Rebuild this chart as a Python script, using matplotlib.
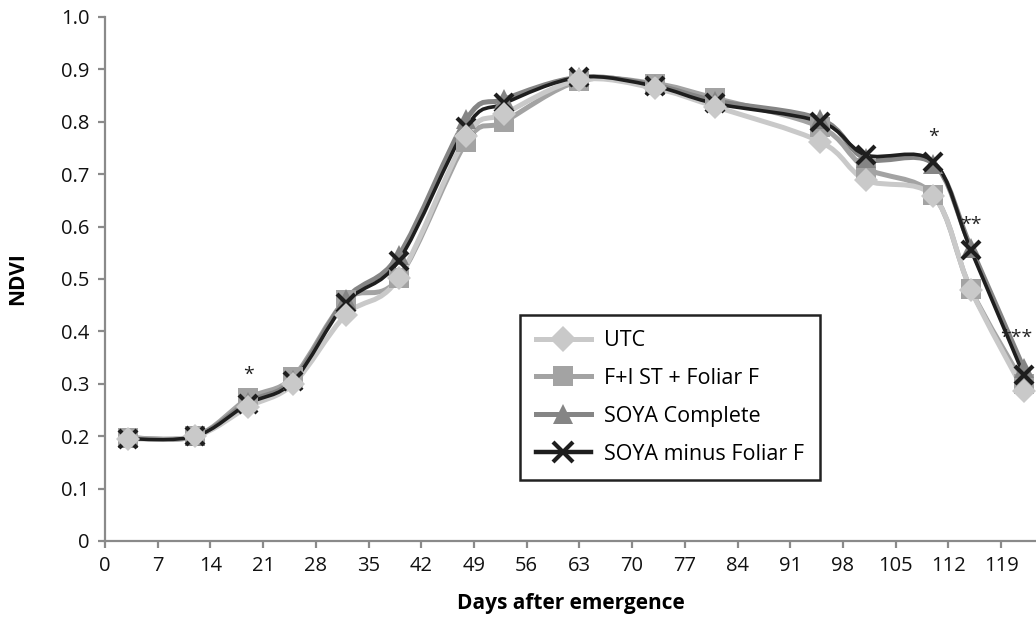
import numpy as np
import matplotlib
matplotlib.use("Agg")
import matplotlib.pyplot as plt
from matplotlib.path import Path
from matplotlib.patches import PathPatch
from matplotlib.lines import Line2D

plt.rcParams['font.family'] = ['Open Sans', 'DejaVu Sans']

# Days after emergence at each sampling date
days = [3, 12, 19, 25, 32, 39, 48, 53, 63, 73, 81, 95, 101, 110, 115, 122]

# NDVI per treatment
utc = [0.195, 0.200, 0.256, 0.300, 0.432, 0.502, 0.772, 0.815, 0.880, 0.864, 0.829, 0.762, 0.689, 0.658, 0.479, 0.287]
fi_st_foliar = [0.197, 0.200, 0.272, 0.313, 0.460, 0.502, 0.762, 0.800, 0.878, 0.873, 0.845, 0.790, 0.712, 0.660, 0.480, 0.300]
soya_complete = [0.197, 0.200, 0.265, 0.308, 0.462, 0.545, 0.805, 0.843, 0.885, 0.870, 0.840, 0.805, 0.730, 0.720, 0.560, 0.330]
soya_minus_foliar = [0.195, 0.200, 0.262, 0.305, 0.455, 0.535, 0.790, 0.835, 0.885, 0.868, 0.835, 0.800, 0.737, 0.724, 0.555, 0.317]

series_names = ["UTC", "F+I ST + Foliar F", "SOYA Complete", "SOYA minus Foliar F"]

# Significance markers: (day, NDVI position, text)
sig_days = [19, 110, 115, 121.0]
sig_pos = [0.318, 0.772, 0.604, 0.388]
sig_text = ["*", "*", "**", "***"]

x_ticks = list(range(0, 120, 7))
y_ticks = [0, 0.1, 0.2, 0.3, 0.4, 0.5, 0.6, 0.7, 0.8, 0.9, 1.0]
y_tick_labels = ["0", "0.1", "0.2", "0.3", "0.4", "0.5", "0.6", "0.7", "0.8", "0.9", "1.0"]


def smooth_path(x, y):
    """Cubic Bezier path through every point (Catmull-Rom tangents)."""
    pts = np.column_stack([x, y]).astype(float)
    n = len(pts)
    verts = [pts[0]]
    codes = [Path.MOVETO]
    for i in range(n - 1):
        p0 = pts[i - 1] if i > 0 else pts[i]
        p1 = pts[i]
        p2 = pts[i + 1]
        p3 = pts[i + 2] if i + 2 < n else pts[i + 1]
        c1 = p1 + (p2 - p0) / 6.0
        c2 = p2 - (p3 - p1) / 6.0
        verts += [c1, c2, p2]
        codes += [Path.CURVE4] * 3
    return Path(verts, codes)


fig = plt.figure(figsize=(10.36, 6.26), dpi=100)
ax = fig.add_axes([105 / 1036, 1 - 541 / 626, 1 - 105 / 1036, (541 - 17) / 626])

axis_grey = "#8a8a8a"

styles = [
    dict(data=utc, color="#c9c9c9", lw=3.6, marker="D", ms=12, mew=0, lz=5, mz=9),
    dict(data=fi_st_foliar, color="#a3a3a3", lw=3.6, marker="s", ms=14, mew=0, lz=3, mz=6),
    dict(data=soya_complete, color="#858585", lw=3.6, marker="^", ms=14, mew=0, lz=4, mz=7),
    dict(data=soya_minus_foliar, color="#1e1e1e", lw=2.6, marker="x", ms=13.5, mew=3.0, lz=5.5, mz=8),
]

handles = []
for name, st in zip(series_names, styles):
    patch = PathPatch(smooth_path(days, st["data"]), facecolor="none",
                      edgecolor=st["color"], lw=st["lw"], zorder=st["lz"],
                      capstyle="round", joinstyle="round")
    ax.add_patch(patch)
    if st["marker"] == "x":
        ax.plot(days, st["data"], linestyle="none", marker="x", ms=st["ms"],
                mew=st["mew"], color=st["color"], zorder=st["mz"])
        h = Line2D([], [], color=st["color"], lw=st["lw"] + 0.6, marker="x",
                   ms=st["ms"] + 1, mew=st["mew"])
    else:
        ax.plot(days, st["data"], linestyle="none", marker=st["marker"], ms=st["ms"],
                mfc=st["color"], mec=st["color"], mew=0, zorder=st["mz"])
        h = Line2D([], [], color=st["color"], lw=st["lw"], marker=st["marker"],
                   ms=st["ms"] + 1, mfc=st["color"], mec=st["color"], mew=0)
    handles.append(h)

for d, p, t in zip(sig_days, sig_pos, sig_text):
    ax.text(d, p, t, ha="center", va="center", fontsize=14, color="#222222",
            zorder=10, clip_on=False)

ax.set_xlim(0, (1036 - 105) / 7.53)
ax.set_ylim(0, 1.0)
ax.set_xticks(x_ticks)
ax.set_xticklabels([str(v) for v in x_ticks])
ax.set_yticks(y_ticks)
ax.set_yticklabels(y_tick_labels)

for s in ["top", "right"]:
    ax.spines[s].set_visible(False)
for s in ["left", "bottom"]:
    ax.spines[s].set_color(axis_grey)
    ax.spines[s].set_linewidth(1.6)

ax.tick_params(axis="both", direction="out", length=5, width=1.6,
               color=axis_grey, labelsize=14.5, labelcolor="#111111", pad=6)

ax.set_xlabel("Days after emergence", fontsize=15, fontweight="bold", labelpad=12)
ax.set_ylabel("NDVI", fontsize=15, fontweight="bold", labelpad=24)

leg = fig.legend(handles, series_names, loc="lower left",
                 bbox_to_anchor=(520 / 1036, 1 - 480 / 626), borderaxespad=0,
                 fontsize=15.5, numpoints=1, handlelength=2.6, handletextpad=0.6,
                 labelspacing=0.78, borderpad=0.72, fancybox=False,
                 framealpha=1, edgecolor="#222222")
leg.get_frame().set_linewidth(1.8)
leg.set_zorder(20)

fig.savefig("out.png", dpi=100)
